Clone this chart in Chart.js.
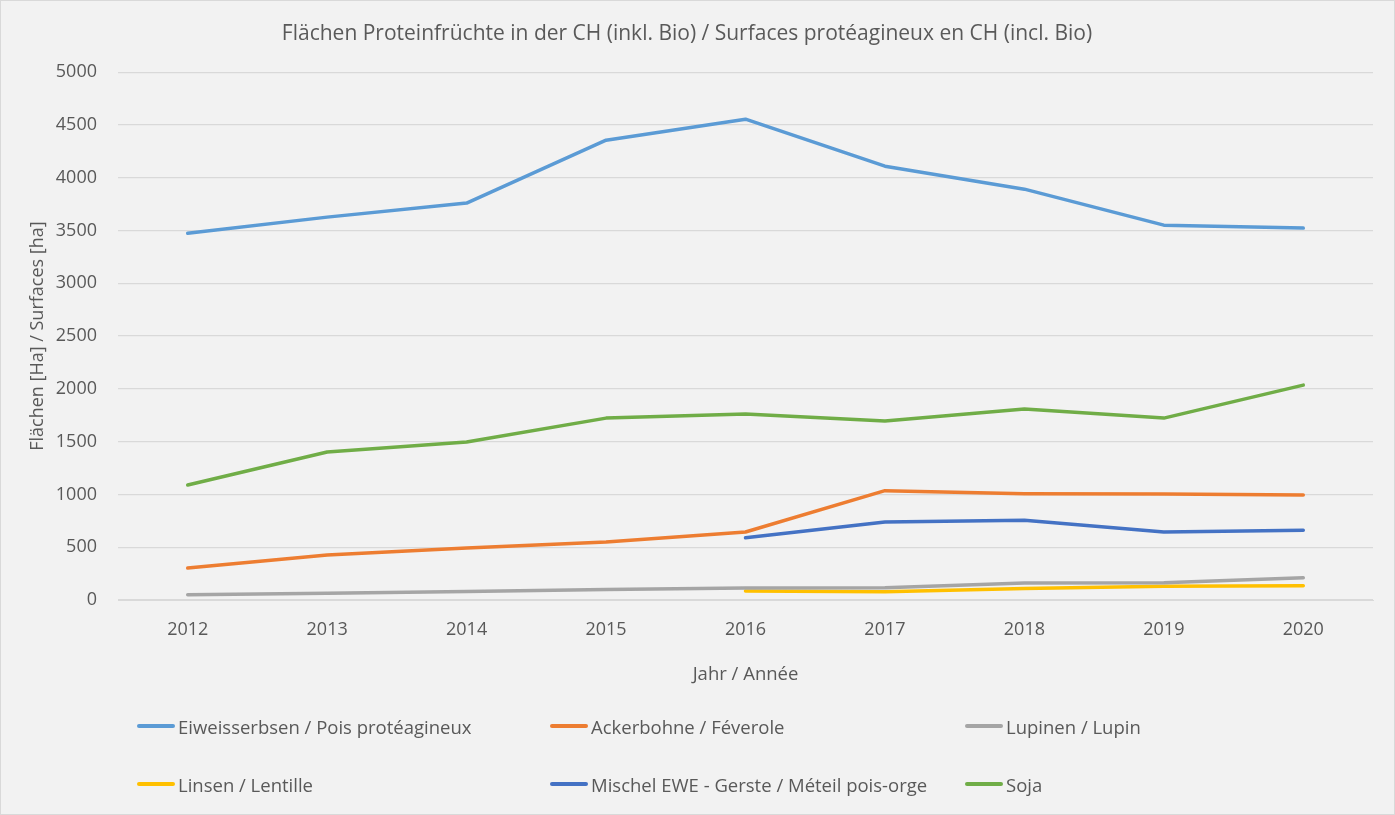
<!DOCTYPE html>
<html>
<head>
<meta charset="utf-8">
<script src="https://cdn.jsdelivr.net/npm/chart.js@4.4.0/dist/chart.umd.min.js"></script>
<style>
  html, body { margin: 0; padding: 0; background: #ffffff; }
  #rahmen {
    position: relative;
    width: 1395px; height: 815px;
    box-sizing: border-box;
    border: 1px solid #d9d9d9;
    background: #f2f2f2;
    font-family: "Open Sans", "Noto Sans", sans-serif;
  }
  #grafik { position: absolute; left: 0; top: 0; }
  .leg { position: absolute; display: flex; align-items: center; font-size: 18.5px; color: #595959; white-space: nowrap; }
  .leg span.strich { display: inline-block; width: 38px; height: 4px; border-radius: 2px; margin-right: 3px; }
</style>
</head>
<body>
<div id="rahmen">
  <canvas id="grafik" width="1393" height="813"></canvas>
  <div id="legende"></div>
</div>
<script>
// Jahre
var jahre = ['2012', '2013', '2014', '2015', '2016', '2017', '2018', '2019', '2020'];

// Flächen in ha pro Kultur
var eiweisserbsen = [3475, 3627, 3760, 4356, 4555, 4110, 3892, 3551, 3523];
var ackerbohne = [303, 426, 492, 549, 644, 1036, 1006, 1004, 994];
var lupinen = [50, 65, 80, 100, 114, 117, 161, 164, 211];
var linsen = [null, null, null, null, 85, 79, 110, 130, 136];
var mischel = [null, null, null, null, 590, 739, 755, 644, 660];
var soja = [1089, 1402, 1496, 1723, 1761, 1695, 1809, 1723, 2036];

var textFarbe = '#595959';
var schrift = '"Open Sans", "Noto Sans", sans-serif';

var serien = [
    { label: 'Eiweisserbsen / Pois protéagineux', data: eiweisserbsen, farbe: '#5B9BD5' },
    { label: 'Ackerbohne / Féverole', data: ackerbohne, farbe: '#ED7D31' },
    { label: 'Lupinen / Lupin', data: lupinen, farbe: '#A5A5A5' },
    { label: 'Linsen / Lentille', data: linsen, farbe: '#FFC000' },
    { label: 'Mischel EWE - Gerste / Méteil pois-orge', data: mischel, farbe: '#4472C4' },
    { label: 'Soja', data: soja, farbe: '#70AD47' }
];

var datasets = serien.map(function (s) {
    return {
        label: s.label,
        data: s.data,
        borderColor: s.farbe,
        backgroundColor: s.farbe,
        borderWidth: 3.5,
        pointRadius: 0,
        tension: 0,
        borderCapStyle: 'round',
        borderJoinStyle: 'round'
    };
});

var ctx = document.getElementById('grafik').getContext('2d');
var grafik = new Chart(ctx, {
    type: 'line',
    data: { labels: jahre, datasets: datasets },
    options: {
        responsive: false,
        animation: false,
        layout: { padding: { left: 0, right: 21, top: 0, bottom: 114 } },
        plugins: {
            legend: { display: false },
            tooltip: { enabled: false },
            title: {
                display: true,
                text: 'Flächen Proteinfrüchte in der CH (inkl. Bio) / Surfaces protéagineux en CH (incl. Bio)',
                color: textFarbe,
                font: { family: schrift, size: 21, weight: 'normal', lineHeight: 1.2 },
                padding: { top: 20, bottom: 26 }
            }
        },
        scales: {
            x: {
                offset: true,
                grid: { display: false, drawTicks: false },
                border: { display: true, color: '#d9d9d9', width: 1 },
                ticks: { color: textFarbe, font: { family: schrift, size: 18 }, padding: 19 },
                title: {
                    display: true,
                    text: 'Jahr / Année',
                    color: textFarbe,
                    font: { family: schrift, size: 18.5, lineHeight: 1.2 },
                    padding: { top: 0, bottom: 14 }
                },
                afterFit: function (scale) { scale.height = 100; }
            },
            y: {
                min: 0,
                max: 5000,
                ticks: {
                    stepSize: 500,
                    color: textFarbe,
                    font: { family: schrift, size: 18 },
                    padding: 21,
                    callback: function (wert) { return String(wert); }
                },
                grid: { color: '#d9d9d9', drawTicks: false, lineWidth: 1.3 },
                border: { display: false },
                title: {
                    display: true,
                    text: 'Flächen [Ha] / Surfaces [ha]',
                    color: textFarbe,
                    font: { family: schrift, size: 18, lineHeight: 1.2 },
                    padding: { top: 26, bottom: 0 }
                },
                afterFit: function (scale) { scale.width = 117; }
            }
        }
    }
});

// Legende als HTML, drei Spalten
var spaltenX = [136, 549, 964];
var zeilenY = [725, 783];
var legende = document.getElementById('legende');
serien.forEach(function (s, i) {
    var div = document.createElement('div');
    div.className = 'leg';
    div.style.left = spaltenX[i % 3] + 'px';
    div.style.top = (zeilenY[Math.floor(i / 3)] - 13) + 'px';
    div.style.height = '26px';
    var strich = document.createElement('span');
    strich.className = 'strich';
    strich.style.background = s.farbe;
    div.appendChild(strich);
    var text = document.createElement('span');
    text.textContent = s.label;
    div.appendChild(text);
    legende.appendChild(div);
});
</script>
</body>
</html>
